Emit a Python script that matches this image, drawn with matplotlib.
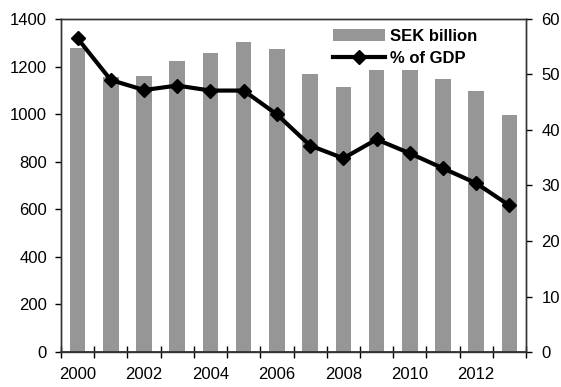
import matplotlib
matplotlib.use("Agg")
import matplotlib.pyplot as plt
import numpy as np

plt.rcParams['font.family'] = ['Liberation Sans', 'DejaVu Sans']

years = list(range(2000, 2014))
sek_billion = [1278, 1156, 1160, 1223, 1258, 1303, 1274, 1168, 1114, 1185, 1185, 1148, 1098, 996]
pct_gdp = [56.5, 49.0, 47.2, 48.0, 47.1, 47.1, 42.8, 37.2, 34.9, 38.3, 35.8, 33.1, 30.4, 26.4]
xlabels = ["2000", "2002", "2004", "2006", "2008", "2010", "2012"]

fig = plt.figure(figsize=(5.61, 3.87), dpi=100)
ax = fig.add_axes([0.1087, 0.0904, 0.829, 0.8606])
ax2 = ax.twinx()

x = np.arange(len(years))
bars = ax.bar(x, sek_billion, width=0.47, color='#969696', label='SEK billion', zorder=1)
ln, = ax2.plot(x, pct_gdp, color='black', lw=3, marker='D', ms=7, label='% of GDP')

ax.set_xlim(-0.5, len(years) - 0.5)
ax.set_ylim(0, 1400)
ax2.set_ylim(0, 60)
ax.set_yticks(range(0, 1401, 200))
ax2.set_yticks(range(0, 61, 10))

ax.set_xticks(x[::2])
ax.set_xticklabels(xlabels)
ax.set_xticks(np.arange(-0.5, len(years), 1), minor=True)
ax.tick_params(axis='x', which='major', length=0, pad=11, labelsize=12)
ax.tick_params(axis='x', which='minor', direction='inout', length=8, width=1)
ax.tick_params(axis='y', length=4, width=1, labelsize=12, pad=6)
ax2.tick_params(axis='y', length=4, width=1, labelsize=12, pad=7)

for a in (ax, ax2):
    for s in a.spines.values():
        s.set_linewidth(1)
        s.set_color('#333333')
ax.spines['bottom'].set_linewidth(1.3)

leg = ax2.legend([bars, ln], ['SEK billion', '% of GDP'], loc='upper left',
                 bbox_to_anchor=(0.585, 0.97), frameon=False, borderpad=0,
                 borderaxespad=0, handlelength=3.1, handletextpad=0.3,
                 labelspacing=0.4, prop={'weight': 'bold', 'size': 12})

fig.savefig("out.png", dpi=100)
